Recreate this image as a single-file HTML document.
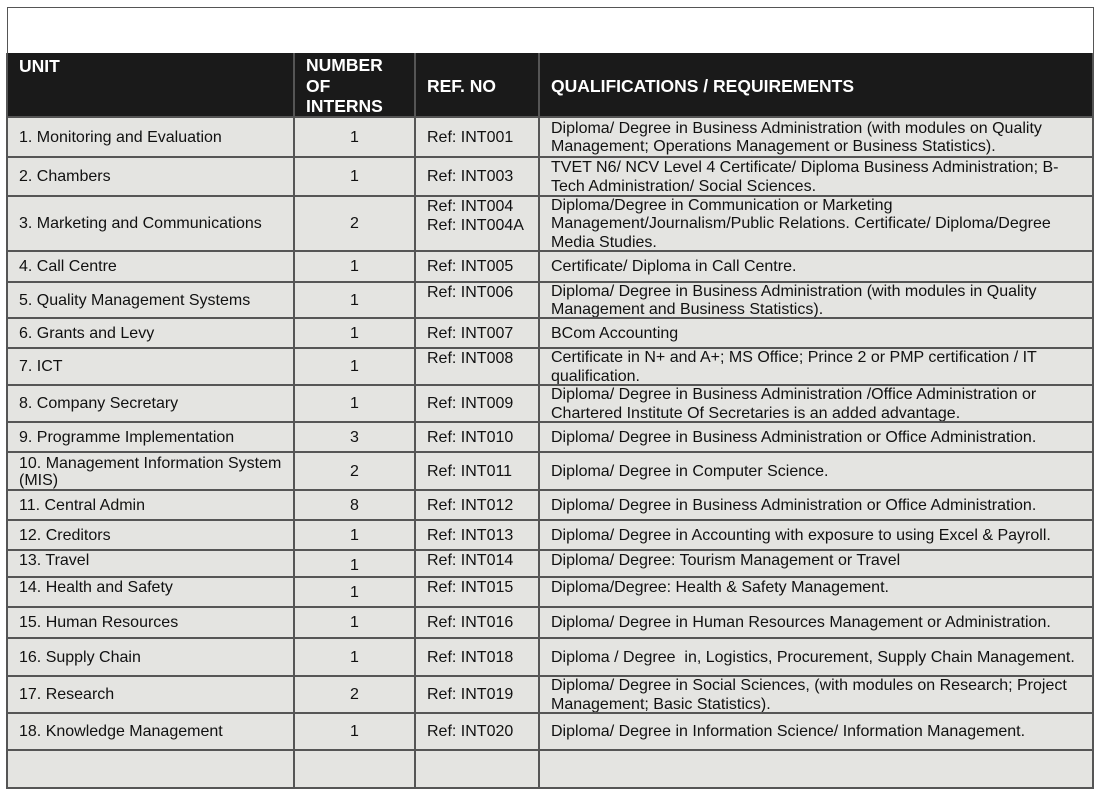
<!DOCTYPE html>
<html><head><style>
html,body{margin:0;padding:0;background:#fff;}
body{width:1100px;height:796px;position:relative;overflow:hidden;font-family:"Liberation Sans",Arial,sans-serif;}
.r{position:absolute;left:7px;width:1086px;background:#e4e4e1;}
.c{position:absolute;top:0;bottom:0;display:flex;align-items:center;padding-left:12px;padding-top:2px;box-sizing:border-box;font-size:16px;line-height:18.5px;color:#111;white-space:nowrap;}
.a{left:0;width:287px;}
.b{left:287px;width:121px;justify-content:center;padding-left:0;}
.d{left:408px;width:124px;}
.e{left:532px;width:554px;}
.t{align-items:flex-start;padding-top:2px;}
.h{background:#1a1a1a;}
.h .c{color:#fff;font-weight:bold;font-size:17.5px;line-height:20.5px;}
.hl{position:absolute;left:7px;width:1087px;height:2px;background:#555;}
.vl{position:absolute;top:53px;height:736px;width:2px;background:#555;}
.top{position:absolute;left:7px;top:7px;width:1085px;height:46px;border:1px solid #555;border-bottom:none;}
</style></head><body>
<div class="top"></div>
<div class="r h" style="top:53px;height:64px">
<div class="c a t" style="padding-top:3px">UNIT</div>
<div class="c b" style="justify-content:flex-start;padding-left:12px">NUMBER<br>OF<br>INTERNS</div>
<div class="c d">REF. NO</div>
<div class="c e">QUALIFICATIONS / REQUIREMENTS</div>
</div>
<div class="r" style="top:117px;height:40px"><div class="c a">1. Monitoring and Evaluation</div><div class="c b">1</div><div class="c d">Ref: INT001</div><div class="c e">Diploma/ Degree in Business Administration (with modules on Quality<br>Management; Operations Management or Business Statistics).</div></div>
<div class="r" style="top:157px;height:39px"><div class="c a">2. Chambers</div><div class="c b">1</div><div class="c d">Ref: INT003</div><div class="c e">TVET N6/ NCV Level 4 Certificate/ Diploma Business Administration; B-<br>Tech Administration/ Social Sciences.</div></div>
<div class="r" style="top:196px;height:55px"><div class="c a">3. Marketing and Communications</div><div class="c b">2</div><div class="c d t">Ref: INT004<br>Ref: INT004A</div><div class="c e">Diploma/Degree in Communication or Marketing<br>Management/Journalism/Public Relations. Certificate/ Diploma/Degree<br>Media Studies.</div></div>
<div class="r" style="top:251px;height:31px"><div class="c a">4. Call Centre</div><div class="c b">1</div><div class="c d">Ref: INT005</div><div class="c e">Certificate/ Diploma in Call Centre.</div></div>
<div class="r" style="top:282px;height:36px"><div class="c a">5. Quality Management Systems</div><div class="c b">1</div><div class="c d t">Ref: INT006</div><div class="c e">Diploma/ Degree in Business Administration (with modules in Quality<br>Management and Business Statistics).</div></div>
<div class="r" style="top:318px;height:30px"><div class="c a">6. Grants and Levy</div><div class="c b">1</div><div class="c d">Ref: INT007</div><div class="c e">BCom Accounting</div></div>
<div class="r" style="top:348px;height:37px"><div class="c a">7. ICT</div><div class="c b">1</div><div class="c d t">Ref: INT008</div><div class="c e">Certificate in N+ and A+; MS Office; Prince 2 or PMP certification / IT<br>qualification.</div></div>
<div class="r" style="top:385px;height:37px"><div class="c a">8. Company Secretary</div><div class="c b">1</div><div class="c d">Ref: INT009</div><div class="c e">Diploma/ Degree in Business Administration /Office Administration or<br>Chartered Institute Of Secretaries is an added advantage.</div></div>
<div class="r" style="top:422px;height:30px"><div class="c a">9. Programme Implementation</div><div class="c b">3</div><div class="c d">Ref: INT010</div><div class="c e">Diploma/ Degree in Business Administration or Office Administration.</div></div>
<div class="r" style="top:452px;height:38px"><div class="c a" style="line-height:17px">10. Management Information System<br>(MIS)</div><div class="c b">2</div><div class="c d">Ref: INT011</div><div class="c e">Diploma/ Degree in Computer Science.</div></div>
<div class="r" style="top:490px;height:30px"><div class="c a">11. Central Admin</div><div class="c b">8</div><div class="c d">Ref: INT012</div><div class="c e">Diploma/ Degree in Business Administration or Office Administration.</div></div>
<div class="r" style="top:520px;height:30px"><div class="c a">12. Creditors</div><div class="c b">1</div><div class="c d">Ref: INT013</div><div class="c e">Diploma/ Degree in Accounting with exposure to using Excel &amp; Payroll.</div></div>
<div class="r" style="top:550px;height:27px"><div class="c a t">13. Travel</div><div class="c b t" style="padding-top:7px">1</div><div class="c d t">Ref: INT014</div><div class="c e t">Diploma/ Degree: Tourism Management or Travel</div></div>
<div class="r" style="top:577px;height:30px"><div class="c a t">14. Health and Safety</div><div class="c b t" style="padding-top:7px">1</div><div class="c d t">Ref: INT015</div><div class="c e t">Diploma/Degree: Health &amp; Safety Management.</div></div>
<div class="r" style="top:607px;height:31px"><div class="c a">15. Human Resources</div><div class="c b">1</div><div class="c d">Ref: INT016</div><div class="c e">Diploma/ Degree in Human Resources Management or Administration.</div></div>
<div class="r" style="top:638px;height:38px"><div class="c a">16. Supply Chain</div><div class="c b">1</div><div class="c d">Ref: INT018</div><div class="c e">Diploma / Degree &nbsp;in, Logistics, Procurement, Supply Chain Management.</div></div>
<div class="r" style="top:676px;height:37px"><div class="c a">17. Research</div><div class="c b">2</div><div class="c d">Ref: INT019</div><div class="c e">Diploma/ Degree in Social Sciences, (with modules on Research; Project<br>Management; Basic Statistics).</div></div>
<div class="r" style="top:713px;height:37px"><div class="c a">18. Knowledge Management</div><div class="c b">1</div><div class="c d">Ref: INT020</div><div class="c e">Diploma/ Degree in Information Science/ Information Management.</div></div>
<div class="r" style="top:750px;height:37px"></div>

<div class="hl" style="top:116px"></div>
<div class="hl" style="top:156px"></div>
<div class="hl" style="top:195px"></div>
<div class="hl" style="top:250px"></div>
<div class="hl" style="top:281px"></div>
<div class="hl" style="top:317px"></div>
<div class="hl" style="top:347px"></div>
<div class="hl" style="top:384px"></div>
<div class="hl" style="top:421px"></div>
<div class="hl" style="top:451px"></div>
<div class="hl" style="top:489px"></div>
<div class="hl" style="top:519px"></div>
<div class="hl" style="top:549px"></div>
<div class="hl" style="top:576px"></div>
<div class="hl" style="top:606px"></div>
<div class="hl" style="top:637px"></div>
<div class="hl" style="top:675px"></div>
<div class="hl" style="top:712px"></div>
<div class="hl" style="top:749px"></div>
<div class="hl" style="top:787px"></div>
<div class="vl" style="left:6px"></div>
<div class="vl" style="left:293px"></div>
<div class="vl" style="left:414px"></div>
<div class="vl" style="left:538px"></div>
<div class="vl" style="left:1092px"></div>
</body></html>
